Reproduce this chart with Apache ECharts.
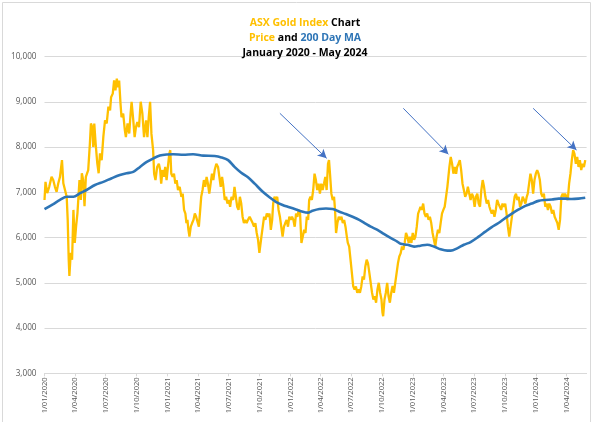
<!DOCTYPE html>
<html>
<head>
<meta charset="utf-8">
<script src="https://cdn.jsdelivr.net/npm/echarts@6/dist/echarts.min.js"></script>
<style>
html,body{margin:0;padding:0;background:#fff;}
#chart{width:600px;height:422px;}
</style>
</head>
<body>
<div id="chart"></div>
<script>
// Day offsets are days since 1 January 2020
const startDate = [2020, 0, 1];
const endDay = 1612; // 31 May 2024

// ASX Gold Index price: [day offset, index value]
const priceData = [
[0,6830],[3,7230],[8,6980],[14,7120],[21,7340],[26,7270],[31,7120],[36,7010],[41,7200],[46,7340],[52,7710],[56,7200],[61,7050],[66,6900],[69,6390],[72,5510],[74,5150],[78,5660],[82,5510],[86,6610],[90,5880],[94,6250],[98,6540],[104,7270],[108,6830],[111,7420],[115,7270],[119,6690],[123,7340],[130,7490],[135,8080],[138,8520],[142,8440],[145,8000],[148,8520],[152,8080],[157,7640],[161,7420],[165,7860],[170,7710],[175,8230],[180,8590],[185,8520],[190,8890],[195,8810],[198,9100],[203,9180],[207,9470],[211,9250],[215,9510],[219,9320],[222,9470],[226,8960],[229,8660],[234,8740],[239,8370],[242,8220],[247,8520],[252,8300],[256,8740],[259,9000],[264,8590],[268,8220],[272,8440],[276,8550],[281,8440],[286,9000],[291,8740],[296,8220],[302,8590],[306,8220],[310,8660],[314,9000],[318,8290],[323,7930],
[326,7410],[330,7270],[335,7560],[340,7630],[344,7490],[347,7190],[351,7490],[355,7340],[359,7560],[363,7270],[367,7560],[371,7850],[374,7930],[377,7410],[381,7340],[385,7410],[389,7190],[393,7270],[397,7050],[402,7120],[407,6900],[411,6970],[415,6610],[419,6530],[422,6320],[425,6390],[428,6170],[431,6020],[435,6240],[439,6320],[443,6390],[447,6530],[451,6460],[456,6320],[459,6240],[463,6610],[466,6900],[470,7050],[474,7270],[478,7120],[482,7340],[486,7190],[490,6970],[494,7190],[498,7410],[502,7270],[506,7490],[511,7630],[516,7560],[520,7340],[524,7120],[528,7340],[531,7190],[536,6830],[540,6900],[544,6750],[548,6830],[552,6680],[556,6900],[561,6830],[565,7120],[569,6900],[573,6680],[577,6610],[581,6900],[585,6750],[589,6460],[593,6320],[597,6390],[601,6320],[605,6390],[610,6460],[615,6460],[619,6320],[623,6240],[627,6320],[631,6100],[635,5950],[639,5660],
[645,6020],[649,6240],[653,6460],[657,6390],[661,6530],[665,6460],[669,6530],[673,6170],[677,6390],[680,6750],[684,6900],[688,6830],[692,6900],[696,6610],[700,6460],[704,6240],[708,6020],[712,6240],[716,6320],[720,6390],[724,6240],[728,6460],[732,6390],[736,6460],[740,6390],[744,6240],[748,6530],[752,6460],[756,6610],[760,6530],[764,5880],[768,6020],[772,6170],[776,6100],[780,6460],[784,6390],[787,6830],[791,6900],[795,6830],[799,7050],[803,7410],[807,7270],[811,7050],[815,7190],[819,6970],[823,7190],[827,7050],[831,7190],[835,7340],[839,7050],[843,7630],[846,7710],[849,7410],[853,6970],[857,6830],[861,6900],[864,6610],[867,6100],[871,6320],[875,6460],[879,6390],[883,6460],[887,6320],[891,6390],[895,6240],[899,6020],[902,5880],[906,5800],[910,5510],[914,5220],[918,4920],[922,4850],[926,4920],[930,4780],[934,4850],[938,4780],[942,4920],[946,5140],[950,5070],[954,5360],[958,5510],[962,5430],
[966,5220],[970,5000],[974,4780],[978,4630],[982,4700],[986,4560],[990,4850],[994,5000],[998,4780],[1002,4630],[1005,4340],[1007,4260],[1011,4630],[1015,4780],[1019,5000],[1023,4700],[1027,4560],[1031,4780],[1035,4930],[1039,4780],[1043,5000],[1047,5000],[1051,5430],[1055,5580],[1059,5650],[1063,5800],[1067,5730],[1071,5880],[1075,6100],[1079,6020],[1083,5880],[1087,6020],[1091,5880],[1095,6100],[1099,5950],[1103,6020],[1107,6240],[1111,6530],[1115,6610],[1118,6680],[1122,6610],[1126,6750],[1130,6530],[1134,6460],[1138,6530],[1142,6390],[1146,6460],[1150,6320],[1154,6100],[1158,5950],[1162,5800],[1166,6020],[1170,6170],[1174,6100],[1178,6320],[1182,6530],[1186,6610],[1190,6680],[1194,6900],[1198,7120],[1201,7340],[1204,7560],[1208,7780],[1212,7630],[1216,7410],[1220,7560],[1224,7410],[1227,7560],[1231,7630],[1235,7710],[1239,7490],[1243,7190],[1247,7050],[1251,6900],[1255,6970],[1259,7120],[1263,6970],[1267,6830],
[1271,6970],[1275,6900],[1279,6680],[1283,6900],[1287,6970],[1291,6750],[1295,6680],[1299,7050],[1303,7270],[1307,7120],[1311,6900],[1315,6750],[1319,6830],[1323,6680],[1326,6610],[1330,6530],[1334,6610],[1338,6460],[1342,6610],[1346,6830],[1350,6750],[1354,6680],[1358,6610],[1362,6750],[1366,6680],[1370,6750],[1374,6530],[1378,6240],[1382,6020],[1386,6240],[1390,6460],[1394,6680],[1398,6900],[1402,6970],[1406,6830],[1410,6900],[1414,6680],[1418,6750],[1422,6900],[1426,6830],[1430,6750],[1434,6900],[1437,6970],[1441,7190],[1445,7410],[1449,7270],[1453,6970],[1457,7270],[1461,7410],[1465,7490],[1469,7410],[1473,7270],[1477,6970],[1481,6900],[1485,6970],[1489,6680],[1493,6750],[1497,6610],[1501,6750],[1505,6680],[1509,6530],[1513,6610],[1517,6460],[1521,6390],[1525,6320],[1529,6170],[1533,6390],[1537,6900],[1541,6970],[1545,6900],[1548,6970],[1552,6900],[1556,6830],[1560,7190],[1564,7410],[1568,7710],[1572,7930],[1576,7850],[1580,7630],[1584,7780],[1588,7560],[1592,7710],[1596,7490],[1600,7630],[1604,7560],[1608,7710]
];

// 200 day moving average: [day offset, value]
const maData = [
[0,6626],[26,6740],[46,6830],[66,6900],[86,6900],[106,6980],[125,7050],[150,7160],[175,7230],[200,7310],[224,7380],[244,7420],[264,7450],[284,7560],[304,7670],[324,7750],[343,7810],[363,7835],[383,7840],[413,7830],[442,7840],[472,7810],[506,7800],[526,7770],[546,7710],[565,7560],[585,7430],[605,7330],[625,7190],[649,7010],[669,6890],[688,6790],[708,6720],[728,6670],[748,6620],[768,6570],[783,6550],[797,6590],[817,6630],[837,6640],[857,6630],[877,6570],[896,6520],[916,6460],[936,6390],[956,6300],[970,6240],[990,6170],[1009,6080],[1029,5990],[1049,5910],[1059,5860],[1079,5840],[1099,5800],[1118,5820],[1138,5840],[1158,5800],[1178,5740],[1198,5710],[1208,5710],[1227,5760],[1247,5840],[1267,5900],[1291,6020],[1311,6130],[1330,6230],[1350,6320],[1370,6430],[1390,6530],[1410,6620],[1430,6700],[1449,6750],[1469,6810],[1489,6830],[1509,6840],[1529,6860],[1548,6860],[1568,6850],[1588,6860],[1608,6880]
];

// x-axis tick labels (d/mm/yyyy)
const xTickLabels = ['1/01/2020','1/04/2020','1/07/2020','1/10/2020','1/01/2021','1/04/2021','1/07/2021','1/10/2021','1/01/2022','1/04/2022','1/07/2022','1/10/2022','1/01/2023','1/04/2023','1/07/2023','1/10/2023','1/01/2024','1/04/2024'];
const yMin = 3000, yMax = 10000, yStep = 1000;

// arrows highlighting the peaks: [from day, from value, to day, to value]
const arrows = [
[700, 8744, 839, 7750],
[1067, 8855, 1201, 7839],
[1453, 8855, 1582, 7933]
];

const titleLines = ['ASX Gold Index', 'Chart', 'Price', 'and', '200 Day MA', 'January 2020 - May 2024'];

function dayToTime(d) { return new Date(startDate[0], startDate[1], startDate[2] + d).getTime(); }
function labelToTime(s) { const p = s.split('/'); return new Date(+p[2], +p[1] - 1, +p[0]).getTime(); }
function pad(n) { return n < 10 ? '0' + n : '' + n; }
function fmtDate(v) { const d = new Date(v); return d.getDate() + '/' + pad(d.getMonth() + 1) + '/' + d.getFullYear(); }

const tickTimes = xTickLabels.map(labelToTime);
const GOLD = '#FFC000', BLUE = '#2E75B6';
const TF = 'Open Sans', TS = 10.5, TL = 15;

const chart = echarts.init(document.getElementById('chart'), null, { renderer: 'canvas' });
chart.setOption({
  animation: false,
  backgroundColor: '#ffffff',
  title: {
    left: 300,
    top: 11,
    textAlign: 'center',
    text: '{g|' + titleLines[0] + '} {k|' + titleLines[1] + '}\n{g|' + titleLines[2] + '} {k|' + titleLines[3] + '} {b|' + titleLines[4] + '}\n{k|' + titleLines[5] + '}',
    textStyle: {
      fontFamily: TF, fontSize: TS, fontWeight: 'bold', lineHeight: TL,
      rich: {
        g: { color: GOLD, fontFamily: TF, fontSize: TS, fontWeight: 'bold', lineHeight: TL },
        k: { color: '#000000', fontFamily: TF, fontSize: TS, fontWeight: 'bold', lineHeight: TL },
        b: { color: BLUE, fontFamily: TF, fontSize: TS, fontWeight: 'bold', lineHeight: TL }
      }
    }
  },
  graphic: [{
    type: 'rect', silent: true, z: -10,
    shape: { x: 2.5, y: 2.5, width: 588, height: 430 },
    style: { fill: 'none', stroke: '#D9D9D9', lineWidth: 1 }
  }],
  grid: { left: 44.5, right: 13.4, top: 56.5, bottom: 48.7, containLabel: false },
  xAxis: {
    type: 'value',
    min: dayToTime(0),
    max: dayToTime(endDay),
    axisLine: { show: true, lineStyle: { color: '#D9D9D9', width: 1 } },
    axisTick: { show: true, customValues: tickTimes, length: 3, lineStyle: { color: '#D9D9D9' } },
    splitLine: { show: false },
    axisLabel: {
      customValues: tickTimes,
      rotate: 90,
      margin: 4,
      color: '#595959',
      fontFamily: 'Open Sans',
      fontSize: 7.6,
      formatter: function (v) { return fmtDate(v); }
    }
  },
  yAxis: {
    type: 'value',
    min: yMin, max: yMax, interval: yStep,
    axisLine: { show: false },
    axisTick: { show: false },
    splitLine: { show: true, lineStyle: { color: '#D9D9D9', width: 1 } },
    axisLabel: {
      color: '#595959',
      fontFamily: 'Open Sans',
      fontSize: 8.2,
      margin: 8,
      formatter: function (v) { return v.toLocaleString('en-US'); }
    }
  },
  series: [
    {
      name: 'Price', type: 'line', showSymbol: false, symbol: 'none',
      data: priceData.map(p => [dayToTime(p[0]), p[1]]),
      lineStyle: { color: GOLD, width: 2.3 },
      itemStyle: { color: GOLD },
      z: 2,
      markLine: {
        silent: true, animation: false,
        symbol: ['none', 'arrow'], symbolSize: [7, 9],
        label: { show: false },
        lineStyle: { color: '#4472C4', width: 1, type: 'solid' },
        data: arrows.map(a => [
          { coord: [dayToTime(a[0]), a[1]] },
          { coord: [dayToTime(a[2]), a[3]] }
        ])
      }
    },
    {
      name: '200 Day MA', type: 'line', showSymbol: false, symbol: 'none', smooth: 0.3,
      data: maData.map(p => [dayToTime(p[0]), p[1]]),
      lineStyle: { color: BLUE, width: 2.6 },
      itemStyle: { color: BLUE },
      z: 3
    }
  ]
});
</script>
</body>
</html>
